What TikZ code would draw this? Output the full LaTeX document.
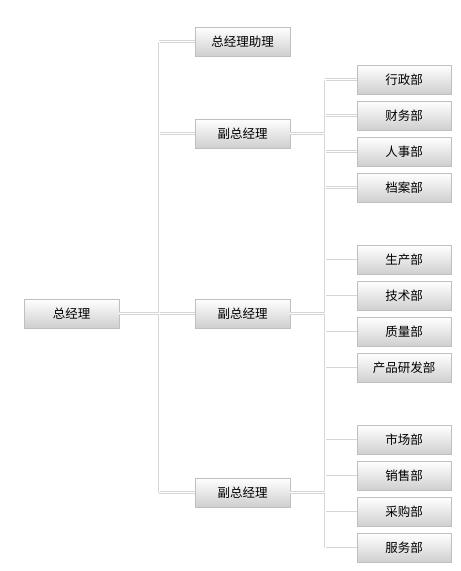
\documentclass[tikz,border=0pt]{standalone}
\usepackage{fontspec}
\newfontfamily\cjk{Noto Sans CJK SC}
\usetikzlibrary{shadows}

\begin{document}
\begin{tikzpicture}[x = 1pt, y = -1pt]
	% Styles for the boxes and the double connector lines
	\tikzset{box/.style = {draw = gray!50, top color = white, bottom color = gray!38,
			minimum width = 95pt, minimum height = 29pt, inner sep = 0pt,
			drop shadow = {shadow xshift = 0.6pt, shadow yshift = -0.8pt, fill = gray!30, opacity = 0.6},
			font = \cjk\fontsize{12.5}{12.5}\selectfont},
		dept/.style = {box, minimum width = 94pt},
		link/.style = {draw = gray!32, double = white, double distance = 1pt, line width = 0.8pt}}

	\useasboundingbox (0, 0) rectangle (461, 571);

	% Top level and the assistant / vice managers
	\node[box] (gm) at (71.5, 313.5) {总经理};
	\node[box] (asst) at (242.5, 41.5) {总经理助理};
	\node[box] (vp1) at (242.5, 133.5) {副总经理};
	\node[box] (vp2) at (242.5, 313.5) {副总经理};
	\node[box] (vp3) at (242.5, 492.5) {副总经理};

	% Departments
	\node[dept] (d1) at (404, 79.5) {行政部};
	\node[dept] (d2) at (404, 115.5) {财务部};
	\node[dept] (d3) at (404, 151.5) {人事部};
	\node[dept] (d4) at (404, 187.5) {档案部};
	\node[dept] (d5) at (404, 260) {生产部};
	\node[dept] (d6) at (404, 296) {技术部};
	\node[dept] (d7) at (404, 332) {质量部};
	\node[dept] (d8) at (404, 368) {产品研发部};
	\node[dept] (d9) at (404, 440) {市场部};
	\node[dept] (d10) at (404, 476) {销售部};
	\node[dept] (d11) at (404, 512) {采购部};
	\node[dept] (d12) at (404, 548) {服务部};

	% Ends of the two vertical lines
	\coordinate (t1) at (159, 41.5);
	\coordinate (t2) at (159, 492.5);
	\coordinate (b1) at (325, 79.5);
	\coordinate (b2) at (325, 548);

	% Draw the connectors in one path so the double lines merge
	\draw[link] (t1) -- (t2)
		(t1) -- (asst.west)
		(vp1.west -| t1) -- (vp1.west)
		(gm.east) -- (vp2.west)
		(vp3.west -| t1) -- (vp3.west)
		(b1) -- (b2)
		(vp1.east) -- (vp1.east -| b1)
		(vp2.east) -- (vp2.east -| b1)
		(vp3.east) -- (vp3.east -| b1)
		(b1) -- (d1.west)
		(d2.west -| b1) -- (d2.west)
		(d3.west -| b1) -- (d3.west)
		(d4.west -| b1) -- (d4.west)
		(d5.west -| b1) -- (d5.west)
		(d6.west -| b1) -- (d6.west)
		(d7.west -| b1) -- (d7.west)
		(d8.west -| b1) -- (d8.west)
		(d9.west -| b1) -- (d9.west)
		(d10.west -| b1) -- (d10.west)
		(d11.west -| b1) -- (d11.west)
		(b2) -- (d12.west);

\end{tikzpicture}
\end{document}
